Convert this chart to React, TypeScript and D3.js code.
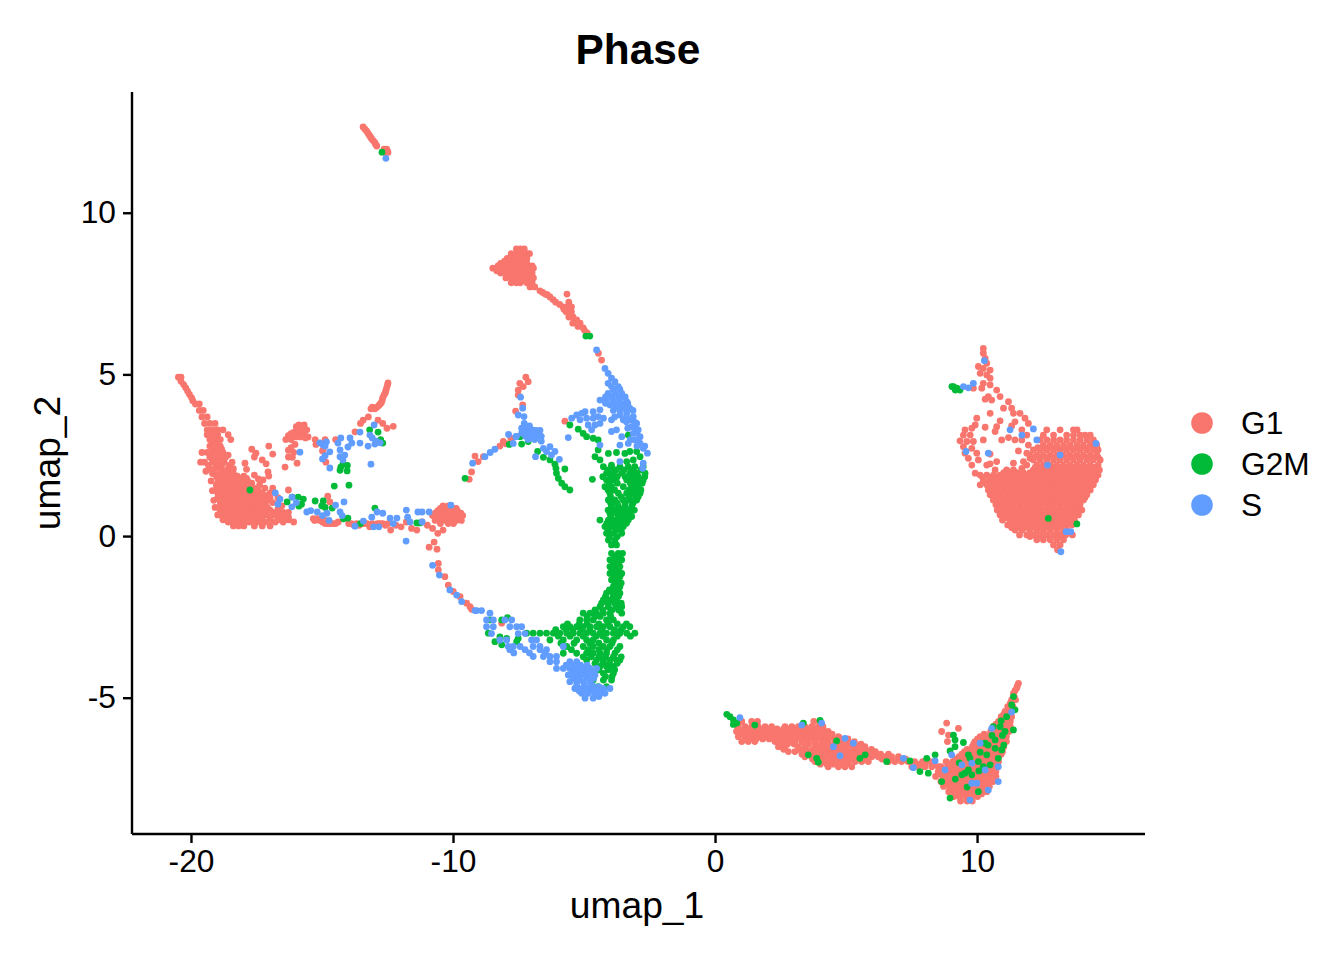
import { useEffect, useRef } from 'react'
import * as d3 from 'd3'

// each row: umap_2 value, then the umap_1 values read at that height
const g1Rows: number[][] = [
  // top sliver
  [12.67,-13.45],[12.6,-13.38],[12.55,-13.32],[12.48,-13.27],[12.42,-13.22],[12.36,-13.17],[12.3,-13.12],[12.24,-13.06],[12.18,-13.0],[12.13,-12.97],[12.08,-12.93],[11.98,-12.65,-12.55],[11.95,-12.62],[11.92,-12.52],[11.88,-12.6,-12.5],
  // upper blob and tail
  [8.9,-7.6,-7.45,-7.3],[8.75,-7.8,-7.6,-7.4,-7.2,-7.1],[8.67,-7.65,-7.45,-7.28],[8.6,-7.95,-7.75,-7.55,-7.35,-7.2],[8.52,-8.05,-7.85,-7.65,-7.45,-7.28],[8.45,-8.2,-8.0,-7.8,-7.6,-7.4,-7.2],
  [8.37,-8.3,-8.05,-7.85,-7.65,-7.45,-7.25,-7.0],[8.3,-8.5,-8.35,-8.15,-7.95,-7.75,-7.55,-7.35,-7.1,-6.95],[8.22,-8.35,-8.1,-7.9,-7.7,-7.5,-7.3,-7.1],[8.15,-8.2,-8.0,-7.8,-7.6,-7.4,-7.2,-7.0],[8.07,-7.9,-7.7,-7.5,-7.3,-7.1],[8.0,-8.0,-7.8,-7.6,-7.4,-7.2,-6.95],[7.92,-7.7,-7.5,-7.3,-7.1],
  [7.85,-7.8,-7.6,-7.45,-7.2,-7.0],[7.72,-7.08,-6.9],[7.6,-6.7],[7.55,-6.6],[7.5,-6.5,-5.67],[7.48,-6.42],[7.41,-6.32],[7.33,-6.2],[7.25,-6.1,-5.6],[7.18,-5.95],[7.1,-5.82,-5.65,-5.5],[7.02,-5.78,-5.58],
  [6.95,-5.7,-5.5],[6.85,-5.52],[6.79,-5.6,-5.44],[6.7,-5.3],[6.6,-5.45,-5.17],[6.5,-5.25],[6.45,-5.05],[6.38,-5.0],[6.3,-4.9],
  [5.67,-4.47],[5.46,-4.35],
  // left wing
  [4.93,-20.5,-20.4],[4.8,-20.4],[4.7,-20.3],[4.6,-20.22],[4.5,-20.15],[4.4,-20.08],[4.3,-20.0],[4.2,-19.95],[4.1,-19.85,-19.7],[3.9,-19.7,-19.55],[3.7,-19.6,-19.4],[3.5,-19.5,-19.3,-19.1],
  [3.3,-19.4,-19.2,-19.0,-18.8],[3.22,-19.1],[3.15,-19.4,-19.2,-19.0,-18.6],[3.0,-19.3,-19.1,-18.9,-18.5],[2.9,-19.0,-19.2],[2.8,-19.3,-19.1,-18.9],[2.7,-19.2,-19.0,-18.85],[2.6,-19.4,-19.2,-19.0,-18.8,-19.6],[2.52,-19.2,-19.0,-18.6],
  [2.45,-19.3,-19.1,-18.9,-18.7],[2.3,-19.5,-19.2,-19.0,-18.75,-18.45,-19.65],[2.2,-19.35,-19.05,-18.85,-18.55],[2.1,-19.3,-19.1,-18.9,-18.6,-18.4],[2.02,-19.15,-18.75,-18.5,-19.45],[1.95,-19.2,-18.9,-18.6,-18.4],[1.9,-17.6],[1.87,-19.05,-18.8,-18.5,-18.25,-18.0],
  [1.8,-19.0,-18.7,-18.4,-18.1,-17.9],[1.72,-18.9,-18.65,-18.4,-18.15,-17.85,-19.25],[1.65,-19.0,-18.8,-18.5,-18.3,-18.0,-17.7],[1.6,-17.4],[1.58,-19.05,-18.7,-18.45,-18.2,-18.0,-17.75],[1.5,-19.0,-18.8,-18.6,-18.35,-18.1,-17.9,-17.6,-17.2,-16.9],[1.42,-18.9,-18.65,-18.4,-18.2,-17.95,-17.7,-17.45,-19.2],
  [1.35,-19.0,-18.8,-18.5,-18.3,-18.1,-17.8,-17.6,-17.3,-17.0],[1.27,-18.85,-18.6,-18.35,-18.1,-17.9,-17.6,-17.35,-17.1],[1.2,-19.0,-18.7,-18.5,-18.2,-18.0,-17.75,-17.5,-17.2,-17.0,-16.7],[1.12,-18.8,-18.6,-18.4,-18.2,-18.0,-17.75,-17.5,-17.3,-17.05,-19.15],
  [1.05,-18.9,-18.7,-18.5,-18.3,-18.1,-17.9,-17.6,-17.4,-17.2,-16.9],[0.97,-18.8,-18.6,-18.4,-18.2,-18.0,-17.7,-17.5,-17.25],[0.9,-18.95,-18.7,-18.5,-18.3,-18.1,-17.85,-17.6,-17.4,-17.1,-19.1],[0.82,-18.8,-18.6,-18.4,-18.2,-18.0,-17.8,-17.55,-17.3,-17.0],
  [0.75,-18.9,-18.7,-18.5,-18.3,-18.1,-17.9,-17.7,-17.4,-17.2,-16.9,-16.7,-16.5,-16.3],[0.67,-18.7,-18.5,-18.3,-18.1,-17.9,-17.7,-17.45,-17.15,-16.85,-19.0],[0.6,-18.8,-18.6,-18.4,-18.2,-18.0,-17.8,-17.6,-17.3,-17.0,-16.7,-16.5,-16.3],[0.52,-18.5,-18.3,-18.1,-17.9,-17.65,-17.35,-17.0,-16.65,-16.3,-18.8],
  [0.45,-18.6,-18.4,-18.2,-18.0,-17.8,-17.5,-17.2,-16.8,-16.5,-16.1],[0.33,-18.4,-18.2,-18.0,-17.6,-17.3,-17.0],
  [2.8,-17.05],[2.7,-17.7],[2.58,-17.54],[2.55,-16.9],[2.46,-17.6,-16.3],[2.37,-17.3],[2.27,-17.96,-15.97],[2.25,-17.15],[2.15,-16.43],[2.08,-17.9],[2.0,-17.08],[1.87,-17.05],[1.78,-17.45],[1.75,-17.27],[1.44,-16.3],[1.25,-14.8],[1.07,-14.72],
  // small blob
  [3.45,-15.7,-15.9],[3.4,-16.0],[3.35,-15.75],[3.3,-15.6,-15.8],[3.25,-16.0],[3.22,-15.9,-16.1],[3.18,-15.7,-16.2],[3.12,-15.75,-16.1,-16.3],[3.08,-15.55,-15.85,-16.0],[3.05,-15.65],[3.0,-16.2,-16.4,-15.28,-14.9],[2.85,-16.05,-15.25],[2.75,-16.2],[2.67,-14.98,-16.3],[2.6,-16.1],[2.45,-16.15],[2.3,-14.87],
  // right arm of the wing
  [4.75,-12.5],[4.68,-12.52],[4.6,-12.55],[4.52,-12.58],[4.45,-12.6],[4.38,-12.65],[4.3,-12.7],[4.22,-12.72],[4.15,-12.75],[4.1,-12.8],[4.05,-12.85],[4.0,-12.92,-13.1],[3.95,-13.0,-13.15],[3.7,-13.25],[3.6,-13.45,-12.88],[3.5,-12.7,-13.55],[3.41,-12.3],[3.35,-12.54],[3.24,-13.76],[3.0,-14.5],[2.65,-15.0],
  // strip
  [0.95,-16.55],[0.85,-16.7],[0.55,-15.2,-15.35],[0.5,-15.3,-15.1,-14.9],[0.45,-15.0,-14.4],[0.4,-14.8,-14.6,-14.0,-14.9,-14.7,-14.5,-13.9,-13.7,-13.5,-13.3,-13.1,-12.9,-12.7,-12.5],[0.35,-13.8,-13.6,-13.0,-12.6],[0.4,-13.4,-12.8],[0.3,-13.2,-12.0],[0.2,-12.4,-11.4],[0.35,-12.2,-11.0],[0.45,-11.8,-11.2],[0.25,-11.6,-10.8],[0.1,-10.6],[0.2,-10.4],
  [0.95,-10.4,-10.2],[0.87,-10.5,-10.3,-10.1,-9.9],[0.8,-10.6,-10.4,-10.2,-10.0,-9.85],[0.72,-10.7,-10.5,-10.3,-10.1,-9.9,-9.72],[0.65,-10.8,-10.6,-10.4,-10.2,-10.0,-9.8,-9.65],[0.58,-10.6,-10.4,-10.2,-10.0,-9.8],[0.5,-10.7,-10.5,-10.3,-10.1,-9.9,-9.7],[0.4,-10.5,-10.2,-10.0],
  [-0.17,-10.74],[-0.33,-10.93],[-0.39,-10.63],
  // lower left tail
  [-0.83,-10.58],[-1.03,-10.58],[-1.24,-10.33],[-1.5,-10.2],[-1.7,-10.01],[-1.86,-9.75],[-2.06,-9.5],[-2.17,-9.37],[-2.25,-9.31],[-2.68,-8.16],
  // small arm and arc
  [4.93,-7.24],[4.79,-7.15],[4.74,-7.47],[4.64,-7.34],[4.53,-7.53],[4.38,-7.53],[4.07,-7.36],[3.88,-7.63],[3.04,-7.81],[2.94,-8.1],[2.87,-8.0],[2.8,-8.23],[2.49,-9.18],[2.47,-8.86],[2.32,-9.06],[2.0,-9.31],[1.77,-9.4],[3.57,-5.75],
  // right cluster: tip and loose part
  [5.82,10.22],[5.67,10.22],[5.51,10.29],[5.36,10.35],[5.26,10.03],[5.2,10.22],[5.15,10.48],[5.05,10.1],[5.0,10.35],[4.9,10.48],[4.74,10.22],[4.69,10.48],[4.59,10.16,9.84],[4.53,10.73],[4.33,10.86,10.41],[4.25,10.29],[4.22,10.54],[4.17,11.18],[3.97,10.99,11.3],[3.81,10.48,11.37,11.62],[3.66,11.81,9.97],[3.58,10.86],[3.55,11.43],[3.5,11.94],[3.45,9.91],[3.42,11.3],[3.4,10.73],[3.38,10.29],[3.35,9.78],[3.3,9.52,11.69],[3.25,10.67],[3.14,9.46,9.72,11.88],[3.06,11.18],[2.99,10.22,10.92,11.43,11.69],[2.96,9.33],[2.94,9.59,9.84],[2.83,11.94],[2.78,9.46],[2.73,9.78],[2.65,11.56],[2.58,9.52,9.97,11.88],[2.55,10.48],[2.42,9.65,12.0],[2.37,10.03],[2.32,11.75,10.73],[2.27,11.37],[2.21,9.78,10.35],[2.25,10.48],[2.11,11.69],[2.06,10.67],[1.96,9.91],
  // right cluster: solid body
  [3.3,12.64,13.15,13.66,13.8],[3.14,12.51,12.9,13.4,13.66,13.91,14.1,14.3],[2.99,12.39,12.64,12.9,13.15,13.4,13.66,13.91,14.17,14.42],
  [2.83,12.51,12.77,13.02,13.28,13.53,13.79,14.04,14.3,14.55],[2.75,12.3,12.55,12.8,13.05,13.3,13.55,13.8,14.05,14.3,14.5],[2.68,12.13,12.39,12.64,12.9,13.15,13.4,13.66,13.91,14.17,14.42,14.6],
  [2.52,12.0,12.26,12.51,12.77,13.02,13.28,13.53,13.79,14.04,14.3,14.55],[2.45,12.15,12.4,12.65,12.9,13.15,13.4,13.65,13.9,14.15,14.4,14.6],[2.37,12.13,12.39,12.64,12.9,13.15,13.4,13.66,13.91,14.17,14.42,14.68],
  [2.21,11.88,12.26,12.51,12.77,13.02,13.28,13.53,13.79,14.04,14.3,14.6],[2.14,12.2,12.45,12.7,12.95,13.2,13.45,13.7,13.95,14.2,14.45],[2.06,11.11,11.37,12.13,12.39,12.64,12.9,13.15,13.4,13.66,13.91,14.17,14.42,14.65],
  [1.98,11.0,11.25,11.5,11.75,12.0,12.25,12.5,12.75,13.0,13.25,13.5,13.75,14.0,14.25,14.5],
  [1.9,10.1,10.35,10.61,10.86,11.11,11.37,11.62,11.88,12.13,12.39,12.64,12.9,13.15,13.4,13.66,13.91,14.17,14.42,14.6],
  [1.83,10.2,10.5,10.75,11.0,11.25,11.5,11.75,12.0,12.25,12.5,12.75,13.0,13.25,13.5,13.75,14.0,14.25,14.5],
  [1.75,10.22,10.48,10.73,10.99,11.24,11.5,11.75,12.0,12.26,12.51,12.77,13.02,13.28,13.53,13.79,14.04,14.3,14.5],
  [1.67,10.3,10.6,10.85,11.1,11.35,11.6,11.85,12.1,12.35,12.6,12.85,13.1,13.35,13.6,13.85,14.1,14.35],
  [1.6,10.1,10.35,10.61,10.86,11.11,11.37,11.62,11.88,12.13,12.39,12.64,12.9,13.15,13.4,13.66,13.91,14.17,14.42],
  [1.52,10.5,10.75,11.0,11.25,11.5,11.75,12.0,12.25,12.5,12.75,13.0,13.25,13.5,13.75,14.0,14.25],
  [1.44,10.41,10.73,10.99,11.24,11.5,11.75,12.0,12.26,12.51,12.77,13.02,13.28,13.53,13.79,14.04,14.3],
  [1.36,10.6,10.85,11.1,11.35,11.6,11.85,12.1,12.35,12.6,12.85,13.1,13.35,13.6,13.85,14.1],
  [1.29,10.48,10.61,10.86,11.11,11.37,11.62,11.88,12.13,12.39,12.64,12.9,13.15,13.4,13.66,13.91,14.17],
  [1.21,10.7,10.95,11.2,11.45,11.7,11.95,12.2,12.45,12.7,12.95,13.2,13.45,13.7,13.95,14.1],
  [1.13,10.6,10.73,10.99,11.24,11.5,11.75,12.0,12.26,12.51,12.77,13.02,13.28,13.53,13.79,14.04],
  [1.05,10.85,11.1,11.35,11.6,11.85,12.1,12.35,12.6,12.85,13.1,13.35,13.6,13.85],
  [0.98,10.7,10.86,11.11,11.37,11.62,11.88,12.13,12.39,12.64,12.9,13.15,13.4,13.66,13.91],
  [0.9,10.9,11.15,11.4,11.65,11.9,12.15,12.4,12.65,12.9,13.15,13.4,13.65,13.85],
  [0.82,10.75,10.99,11.24,11.5,11.75,12.0,12.26,12.51,12.77,13.02,13.28,13.53,13.79,13.98],
  [0.75,11.0,11.25,11.5,11.75,12.0,12.25,12.5,12.75,13.0,13.25,13.5,13.75],
  [0.67,10.86,11.11,11.37,11.62,11.88,12.13,12.39,12.64,12.9,13.15,13.4,13.66,13.85],
  [0.59,11.1,11.35,11.6,11.85,12.1,12.35,12.6,12.85,13.1,13.35,13.6],
  [0.51,10.95,11.24,11.5,11.75,12.0,12.26,12.51,12.77,13.02,13.28,13.53,13.7],
  [0.43,11.3,11.55,11.8,12.05,12.3,12.55,12.8,13.05,13.3,13.5],
  [0.36,11.15,11.37,11.62,11.88,12.13,12.39,12.64,12.9,13.15,13.4,13.6],
  [0.28,11.3,11.55,11.8,12.05,12.3,12.55,12.8,13.05,13.3],
  [0.2,11.43,11.7,12.0,12.26,12.51,12.77,13.02,13.28,13.4],
  [0.05,11.6,11.88,12.13,12.39,12.64,12.9,13.15,13.36,13.62],[0.0,12.0,12.25,12.5,12.75,13.0,13.2],
  [-0.1,12.26,12.51,12.77,13.02,13.28],[-0.26,12.9,13.15],[-0.41,13.05],
  // bottom cluster: left part
  [-5.72,1.0,1.38,1.6,3.75,4.0],[-5.88,0.87,1.13,1.38,1.63,1.89,2.14,2.65,2.91,3.16,3.41,3.67,3.92,4.1],
  [-5.95,0.85,1.1,1.35,1.6,1.85,2.1,2.35,2.6,2.85,3.1,3.35,3.6,3.85,4.1],
  [-6.03,0.8,1.0,1.25,1.5,1.75,2.0,2.27,2.53,2.78,3.03,3.29,3.54,3.8,4.05,4.3],
  [-6.11,0.95,1.2,1.45,1.7,1.95,2.2,2.45,2.7,2.95,3.2,3.45,3.7,3.95,4.2,4.45],
  [-6.19,0.87,1.13,1.38,1.63,1.89,2.14,2.4,2.65,2.91,3.16,3.41,3.67,3.92,4.18,4.43,4.69],
  [-6.26,1.3,1.55,1.8,2.05,2.3,2.55,2.8,3.05,3.3,3.55,3.8,4.05,4.3,4.55,4.8,5.05],
  [-6.34,1.0,1.25,1.5,2.27,2.53,2.78,3.03,3.29,3.54,3.8,4.05,4.3,4.56,4.81,5.07,5.3],
  [-6.42,2.5,2.75,3.0,3.55,3.8,4.05,4.3,4.55,4.8,5.05,5.3,5.55],
  [-6.5,2.4,2.65,3.16,3.41,3.92,4.18,4.43,4.69,4.94,5.2,5.45,5.7],
  [-6.58,2.6,3.2,3.45,3.7,3.95,4.2,4.45,4.7,4.95,5.2,5.45,5.7,5.95],
  [-6.65,2.78,3.03,3.29,3.54,3.8,4.05,4.3,4.56,4.81,5.07,5.33,5.58,5.83,6.1],
  [-6.73,3.3,3.55,3.8,4.05,4.3,4.55,4.8,5.05,5.3,5.55,5.8,6.05,6.3,6.6],
  [-6.81,3.41,3.67,3.92,4.18,4.43,4.69,4.94,5.2,5.45,5.71,5.96,6.21,6.47,6.72,6.98],
  [-6.88,3.7,3.95,4.2,4.45,4.7,4.95,5.2,5.45,5.7,6.35,6.7,7.0,7.25],
  [-6.96,3.8,4.05,4.3,4.56,4.81,5.07,5.33,5.58,5.83,6.6,6.85,7.1,7.35,7.6],
  [-7.04,4.0,4.25,4.5,4.75,5.0,7.55,7.8,8.0,8.3],
  [-7.12,4.3,4.69,4.94,5.2,7.49,7.74,7.99,8.25,8.5],
  // bottom cluster: right part
  [-4.54,11.56],[-4.62,11.52],[-4.69,11.49],[-4.77,11.43],[-4.85,11.37],[-4.95,11.4],[-5.05,11.3,11.45],[-5.15,11.25],[-5.26,11.15,11.35],[-5.33,11.2],[-5.41,11.05,11.2],[-5.5,11.0,11.2],[-5.57,10.9,11.1,11.3],[-5.65,10.95,11.15],[-5.72,10.8,11.0,11.25],
  [-5.8,10.7,10.95,11.15],[-5.88,10.6,10.8,11.05,11.25],[-5.95,10.6,10.9,11.1],[-6.03,10.5,10.75,11.0,11.2,8.63],[-6.11,10.25,10.5,10.75,11.0],[-6.19,10.1,10.35,10.6,10.85,11.1],[-6.26,10.0,10.25,10.5,10.75,11.0],[-6.34,9.9,10.1,10.35,10.6,10.85,11.1,8.85],
  [-6.42,9.85,10.1,10.35,10.6,10.85],[-6.5,9.8,10.0,10.25,10.5,10.75,11.0],[-6.58,9.6,9.85,10.1,10.35,10.6,10.85],[-6.65,9.5,9.75,10.0,10.25,10.5,10.75,10.95],[-6.73,9.4,9.65,9.9,10.15,10.4,10.65,10.9],[-6.81,9.3,9.55,9.8,10.05,10.3,10.55,10.8],
  [-6.88,9.15,9.4,9.65,9.9,10.15,10.4,10.65],[-6.96,7.9,8.2,8.8,9.05,9.3,9.55,9.8,10.05,10.3,10.55,10.8],[-7.04,8.9,9.15,9.4,9.65,9.9,10.15,10.4,10.65],[-7.12,8.6,8.85,9.1,9.35,9.6,9.85,10.1,10.35,10.6],[-7.2,8.6,8.85,9.1,9.35,9.6,9.85,10.1,10.35,10.6],
  [-7.27,8.5,8.75,9.0,9.25,9.5,9.75,10.0,10.25,10.5,10.7],[-7.35,8.55,8.8,9.05,9.3,9.55,9.8,10.05,10.3,10.55],[-7.42,8.4,8.7,8.95,9.2,9.45,9.7,9.95,10.2,10.45,10.7],[-7.5,8.7,8.95,9.2,9.45,9.7,9.95,10.2,10.45],
  [-7.58,8.6,8.85,9.1,9.35,9.6,9.85,10.1,10.35,10.6],[-7.65,8.8,9.05,9.3,9.55,9.8,10.05,10.3],[-7.73,8.7,8.95,9.2,9.45,9.7,9.95,10.2,10.45],[-7.8,8.95,9.2,9.45,9.7,9.95,10.2],[-7.89,8.9,9.1,9.35,9.6,9.85,10.1,10.35],[-7.96,9.2,9.45,9.7,9.9,10.15],
  [-8.04,9.1,9.3,9.55,9.8,10.0],[-8.18,9.35,9.6,9.8],[-5.77,8.82],[-5.93,9.27],[-6.14,8.89],
]

const g2mRows: number[][] = [
  [11.89,-12.73],[6.2,-4.95,-4.8],
  [3.3,-13.2],[3.23,-12.88],[3.0,-12.78],[2.89,-12.7],[2.24,-14.22],[2.2,-14.05],[2.15,-14.3],[2.05,-14.33],[2.03,-14.06],[1.59,-13.99],[1.56,-14.55],[1.44,-17.77],
  [1.22,-16.16,-15.93],[1.16,-15.73],[1.1,-15.28,-14.97],[1.07,-16.35],[1.0,-15.8],[0.95,-15.03],[0.94,-15.9],[0.9,-14.9],[0.88,-14.63,-13.0],[0.57,-14.03],[0.55,-14.2],[0.4,-13.55],[0.42,-11.28,-11.4],
  // arc branch
  [3.09,-7.46],[2.94,-7.15],[2.86,-7.4],[2.85,-7.87],[1.8,-9.56],[2.63,-6.79],[2.45,-6.57],[2.37,-6.32],[2.24,-6.13],[2.11,-6.09],[2.09,-5.75],[1.96,-6.07],[1.8,-6.0],[1.65,-5.87],[1.54,-5.75],[1.44,-5.56],
  // crescent
  [3.45,-5.56],[3.32,-5.24],[3.19,-5.05],[3.14,-3.33],[3.09,-4.92],[3.04,-4.67],[2.99,-4.48],[2.68,-4.48],[2.63,-3.27,-3.01],[2.6,-3.78],[2.57,-4.09,-3.46],[2.47,-4.6,-2.88],[2.37,-4.41,-3.14],[2.32,-3.39],[2.21,-3.97],[1.77,-4.7],
  [2.16,-4.28,-3.97,-3.65,-3.33,-3.08,-2.76],[2.06,-4.1,-3.8,-3.5,-3.2,-2.85],[1.96,-4.16,-3.9,-3.58,-3.27,-3.01,-2.69],[1.85,-4.3,-4.0,-3.75,-3.45,-3.2,-2.95,-2.7],[1.75,-4.16,-3.9,-3.39,-3.14,-2.88,-2.76],[1.65,-4.05,-3.75,-3.25,-3.0,-2.8],[1.54,-4.22,-3.97,-3.52,-3.2,-2.95],[1.44,-4.1,-3.85,-3.3,-3.05,-2.85],
  [1.34,-4.03,-3.71,-3.39,-3.14,-2.88],[1.23,-4.0,-3.6,-3.3,-3.05,-2.95],[1.13,-4.09,-3.84,-3.52,-3.27,-3.01],[1.03,-4.0,-3.75,-3.45,-3.15],[0.93,-3.97,-3.71,-3.46,-3.2],[0.82,-4.1,-3.85,-3.6,-3.35,-3.1],[0.72,-4.03,-3.78,-3.52,-3.27],[0.62,-4.0,-3.7,-3.45,-3.2],
  [0.51,-4.09,-3.84,-3.58,-3.33,-4.41],[0.41,-4.15,-3.9,-3.65,-3.4],[0.31,-4.22,-3.97,-3.71,-3.52],[0.2,-4.1,-3.8,-3.6],[0.1,-4.16,-3.9,-3.58],[0.0,-4.05,-3.75],[-0.11,-4.09,-3.84],[-0.26,-3.97,-3.78],
  [-0.52,-3.97,-3.71,-3.55],[-0.62,-3.85,-3.65],[-0.72,-4.03,-3.78,-3.58],[-0.82,-3.9,-3.7],[-0.93,-4.03,-3.84,-3.65],[-1.03,-3.95,-3.7],[-1.14,-4.03,-3.78,-3.58],[-1.24,-3.9,-3.65],[-1.34,-3.97,-3.71],[-1.44,-3.85,-3.6],[-1.55,-3.9,-3.65],[-1.65,-4.05,-3.75],[-1.75,-4.16,-3.9,-3.65],[-1.85,-4.2,-3.9,-3.7],[-1.96,-4.28,-4.03,-3.78],[-2.06,-4.35,-4.1,-3.85,-3.6],[-2.17,-4.41,-4.09,-3.78,-3.58],[-2.27,-4.6,-4.3,-3.95,-3.7],
  // lower part
  [-2.37,-5.05,-4.79,-4.54,-4.28,-4.03,-3.58],[-2.47,-4.9,-4.6,-4.4,-4.0],[-2.58,-5.18,-4.92,-4.67,-4.16,-3.9,-8.61,-8.16],[-2.51,-7.94],[-2.7,-5.65,-5.2,-4.9,-4.45,-4.1,-3.75,-3.4],
  [-2.79,-5.81,-5.56,-5.3,-5.05,-4.79,-4.54,-4.28,-4.03,-3.52,-3.27],[-2.88,-6.1,-5.7,-5.45,-5.1,-4.8,-4.35,-3.85,-3.6],
  [-2.99,-7.21,-6.96,-6.7,-6.45,-6.19,-5.94,-5.68,-5.43,-5.18,-4.92,-4.67,-4.41,-4.16,-3.9,-3.65,-3.39,-3.08,-8.67],[-3.08,-6.0,-5.55,-5.05,-4.55,-4.3,-3.75,-3.25],
  [-3.1,-8.23],[-3.15,-7.97,-7.53],[-3.25,-8.42,-7.59],[-3.35,-8.16],
  [-3.2,-6.32,-5.81,-5.3,-4.92,-4.67,-4.16,-3.9],[-3.3,-5.9,-5.4,-4.8,-4.45,-3.95],[-3.4,-5.68,-5.05,-4.67,-4.28,-4.03,-3.65],[-3.5,-5.5,-4.85,-4.45,-4.15,-3.75],[-3.61,-5.81,-5.3,-4.92,-4.67,-4.41,-4.16,-3.84],[-3.72,-5.05,-4.75,-4.45,-4.2,-3.9,-3.6],
  [-3.82,-4.92,-4.54,-4.28,-4.03,-3.78,-3.65],[-3.92,-4.6,-4.3,-4.05,-3.75],[-4.02,-4.41,-4.16,-3.9],[-4.12,-4.45,-4.1,-3.85],[-4.23,-4.28,-3.9],[-4.33,-4.2,-3.95],[-4.44,-4.67,-4.28,-3.97],[-4.64,-4.48,-4.16],
  // right cluster
  [4.64,9.08,9.02],[4.59,9.21],[4.53,9.33,9.15],[0.56,12.7],[0.39,13.79],
  // bottom cluster
  [-5.5,0.43],[-5.57,0.55],[-5.67,0.68],[-5.77,0.81,3.35],[-5.81,0.68],[-5.83,1.5],[-5.69,3.99],[-6.75,3.54,5.71,8.38,9.65,10.35],[-6.86,3.86,5.51,8.06,9.71,10.79],[-6.98,3.92],[-6.32,4.62],[-6.96,6.53,10.03],[-6.94,7.42],[-7.27,7.8],[-7.32,8.12,9.52],
  [-6.14,9.08],[-6.29,9.14,10.67],[-6.37,9.46],[-6.63,8.95],[-6.5,9.14],[-7.06,10.48],[-7.12,10.22],[-7.22,9.65],[-7.37,9.78,9.4],[-6.39,10.29],[-6.67,10.1],[-6.55,10.67],[-6.6,10.92],[-5.88,10.6,10.86],[-6.03,11.05],[-5.98,11.37],[-5.57,11.11],[-4.95,11.37],[-5.36,11.43],[-5.21,11.3],[-7.58,8.63],[-8.09,8.95],[-7.89,10.03],
  [-5.7,10.9],[-6.15,10.55,10.95],[-6.45,10.4,11.0],[-7.0,9.3],[-7.25,10.05],[-7.5,9.15],[-7.75,9.6],
]

const sRows: number[][] = [
  [11.7,-12.58],
  // left wing
  [2.93,-14.85],[2.89,-14.41,-13.88,-13.57],[2.86,-13.0],[2.83,-14.98],[2.9,-12.8,-15.1],[2.8,-14.9,-13.26],[2.77,-14.03],[2.68,-14.33],[2.62,-14.72],[2.61,-15.86],[2.52,-14.15],[2.5,-14.9],[2.47,-14.33],[2.4,-15.0],[2.37,-14.22],[2.24,-13.15],[2.12,-14.72],[3.45,-13.03],[3.23,-13.57],[3.14,-13.19],[3.05,-13.95,-13.1,-14.3],[2.95,-12.95],
  [1.35,-16.8],[1.22,-16.16],[1.16,-16.62],[1.05,-16.0],[1.0,-16.7],[0.97,-14.5],[1.07,-14.18],[0.92,-16.17],[0.8,-15.45],[0.76,-15.6,-15.2,-14.33,-12.92,-11.36,-11.2,-10.93],[0.72,-14.83,-12.7],[0.65,-15.0,-14.25],[0.6,-13.12,-11.75],[0.57,-12.42,-12.16],[0.5,-14.75],[0.48,-13.44],[0.45,-11.66,-11.2],[0.4,-12.3],[0.32,-13.76],[0.3,-13.05,-12.85],[0.82,-11.8],[0.97,-10.1],[-0.14,-11.81],
  // small arm and arc
  [4.31,-7.44],[3.97,-7.36],[3.76,-7.53],[3.71,-7.31],[3.5,-7.3],[3.42,-7.3,-7.1],[3.35,-7.4,-7.2],[3.3,-7.0],[3.28,-6.85,-6.7],[3.25,-7.3,-7.1,-6.9,-6.75],[3.2,-7.4,-7.2],[3.16,-7.9],[3.15,-7.0,-6.85],[3.1,-6.65,-7.6,-7.25,-6.95,-6.75],[3.09,-7.62],[3.05,-7.1],[3.0,-6.9,-7.15],[2.95,-6.65],[2.88,-7.72],[2.7,-8.42],[2.6,-8.6],[2.47,-8.8,-6.87],[2.27,-9.27],
  [2.78,-6.32],[2.73,-6.57],[2.63,-6.45,-6.13],[2.52,-6.26],[2.39,-5.96],
  // crescent top
  [5.77,-4.54],[5.2,-4.22],[5.05,-4.1],[4.9,-3.97],[4.79,-3.84],[4.74,-4.1],[4.64,-3.71,-3.97],[4.55,-3.9,-3.65],[4.43,-4.1,-3.84,-3.58],[4.32,-4.2,-3.95,-3.7,-3.45],[4.22,-4.41,-4.16,-3.9,-3.65],[4.17,-3.39],[4.12,-4.2,-3.85,-3.6,-3.35],[4.07,-4.03],[4.02,-3.78,-3.52],[3.97,-3.27],[3.9,-3.9,-3.65,-3.4,-3.15],[3.81,-3.39],[3.76,-3.65],[3.71,-3.14],[3.7,-3.85,-3.4],[3.61,-3.27,-3.52,-3.97],[3.55,-3.4,-3.1],[3.5,-3.01],[3.4,-3.2],[3.35,-3.35,-3.05],[3.3,-2.95,-3.78],[3.25,-3.97],[3.2,-3.0],[3.19,-3.14],[3.09,-2.88,-3.58],[3.0,-2.95,-3.25],[2.99,-3.08],[2.88,-2.88,-3.33],[2.83,-3.65,-4.41],[2.8,-3.0,-2.7],[2.73,-2.76],[2.58,-2.6],[2.32,-3.65],[2.27,-2.76],[2.11,-2.78],
  [3.86,-4.98],[3.92,-4.41],[3.81,-5.11],[3.76,-5.3],[3.66,-5.49,-4.92,-4.67,-4.28],[3.71,-4.48],[3.86,-4.67],[3.61,-5.17],[3.5,-4.41],[3.45,-4.86,-4.6],[3.3,-4.73],[3.06,-5.62],
  // lower tail
  [-0.89,-10.8],[-1.19,-10.54],[-1.65,-10.14],[-1.81,-9.88],[-2.01,-9.69],[-2.29,-9.18,-9.12,-8.93],
  [-2.37,-8.61],[-2.58,-8.74,-8.48,-8.04,-7.78],[-2.79,-8.74,-8.48,-7.85,-7.59,-7.4],[-3.0,-8.55,-7.53,-7.27],[-3.2,-8.23,-7.97,-7.02,-6.83],
  [-3.4,-7.91,-7.72,-7.46,-6.96,-6.7,-5.81],[-3.5,-7.85,-7.27,-6.7,-6.45],[-3.6,-7.7,-7.1,-6.5],[-3.71,-6.96,-6.57,-6.32,-6.07],[-3.87,-6.32,-6.07,-5.56,-5.3],[-3.98,-5.7,-5.4,-5.15,-4.9],
  [-4.08,-6.07,-5.81,-5.56,-5.3,-5.05,-4.79,-4.54],[-4.18,-5.45,-5.2,-4.95,-4.7],[-4.28,-5.62,-5.37,-5.11,-4.86,-4.6],[-4.38,-5.45,-5.2,-4.9,-4.65],[-4.49,-5.56,-5.3,-5.05,-4.79],[-4.6,-5.3,-5.0,-4.7],[-4.65,-4.45],[-4.7,-5.37,-5.11,-4.86,-4.54,-4.28,-4.03],[-4.78,-5.2,-4.95,-4.7],[-4.85,-5.11,-4.86,-4.6,-4.22,-4.4],[-4.95,-4.45],[-5.0,-4.98,-4.67],
  // right cluster
  [5.44,10.26],[4.74,9.84],[4.64,9.46],[4.6,9.65],[3.33,12.13],[3.3,11.24],[3.14,11.69],[2.99,12.26],[2.88,14.52],[2.63,9.56],[2.58,10.41],[2.52,13.15],[2.21,12.67],[0.15,13.56,13.38],[-0.47,13.18],
  // bottom cluster
  [-5.6,0.93],[-5.83,3.29],[-5.77,4.05],[-6.24,4.94],[-6.39,5.26,10.1],[-6.5,4.5],[-6.78,4.75],[-6.86,7.17],[-7.15,7.55],[-6.94,8.38],[-7.22,8.76,10.29],[-6.75,9.01],[-7.01,9.78],[-7.12,10.79],[-7.63,9.97,9.78],[-7.84,10.41],[-7.58,10.79],[-8.15,9.71],[-5.43,11.3],[-5.93,10.54],[-7.06,9.4],
]

const phases = ['G1', 'G2M', 'S']
const phaseColors = ['#F8766D', '#00BA38', '#619CFF']
const xTicks = [-20, -10, 0, 10]
const yTicks = [-5, 0, 5, 10]

const fromRows = (rows: number[][], phase: string) =>
  rows.flatMap(([y, ...xs]) => xs.map(x => ({ x, y, phase })))

export default function App() {
  const svgRef = useRef<SVGSVGElement>(null)

  useEffect(() => {
    if (!svgRef.current) return
    const svg = d3.select(svgRef.current)
    svg.selectAll('*').remove()

    const margin = { top: 92, right: 199, bottom: 126, left: 132 }
    const width = 1344 - margin.left - margin.right
    const height = 960 - margin.top - margin.bottom
    const font = '"Liberation Sans", Arial, sans-serif'

    const xScale = d3.scaleLinear().domain([-22.27, 16.39]).range([0, width])
    const yScale = d3.scaleLinear().domain([-9.2, 13.75]).range([height, 0])
    const color = d3.scaleOrdinal<string>().domain(phases).range(phaseColors)

    const g = svg.append('g').attr('transform', `translate(${margin.left},${margin.top})`)

    const points = [
      ...fromRows(g1Rows, 'G1'),
      ...fromRows(g2mRows, 'G2M'),
      ...fromRows(sRows, 'S'),
    ]
    g.append('g')
      .selectAll('circle')
      .data(points)
      .join('circle')
      .attr('cx', d => xScale(d.x))
      .attr('cy', d => yScale(d.y))
      .attr('r', 3.4)
      .attr('fill', d => color(d.phase))

    const xAxis = g.append('g')
      .attr('transform', `translate(0,${height})`)
      .call(d3.axisBottom(xScale).offset(0).tickValues(xTicks).tickSizeInner(9).tickSizeOuter(0).tickPadding(6).tickFormat(d => String(d)))
    const yAxis = g.append('g')
      .call(d3.axisLeft(yScale).offset(0).tickValues(yTicks).tickSizeInner(9).tickSizeOuter(0).tickPadding(7).tickFormat(d => String(d)))

    for (const axis of [xAxis, yAxis]) {
      axis.selectAll('.domain').attr('stroke', '#000').attr('stroke-width', 2.4)
      axis.selectAll('.tick line').attr('stroke', '#000').attr('stroke-width', 2.4)
      axis.selectAll('text')
        .attr('fill', '#000')
        .style('font-family', font)
        .style('font-size', '31.7px')
    }

    svg.append('text')
      .attr('x', 638)
      .attr('y', 64)
      .attr('text-anchor', 'middle')
      .style('font-family', font)
      .style('font-size', '42.4px')
      .style('font-weight', 'bold')
      .text('Phase')

    svg.append('text')
      .attr('x', 637)
      .attr('y', 918)
      .attr('text-anchor', 'middle')
      .style('font-family', font)
      .style('font-size', '37.2px')
      .text('umap_1')

    svg.append('text')
      .attr('transform', 'translate(60,463) rotate(-90)')
      .attr('text-anchor', 'middle')
      .style('font-family', font)
      .style('font-size', '37.2px')
      .text('umap_2')

    const legendY = d3.scalePoint<string>().domain(phases).range([423, 505])
    const legend = svg.append('g')
      .selectAll('g')
      .data(phases)
      .join('g')
      .attr('transform', d => `translate(1202,${legendY(d)})`)
    legend.append('circle').attr('r', 10.8).attr('fill', d => color(d))
    legend.append('text')
      .attr('x', 39)
      .attr('y', 11)
      .style('font-family', font)
      .style('font-size', '31.7px')
      .text(d => d)
  }, [])

  return (
    <svg
      ref={svgRef}
      width={1344}
      height={960}
      style={{ position: 'absolute', left: 0, top: 0, background: '#fff' }}
    />
  )
}
